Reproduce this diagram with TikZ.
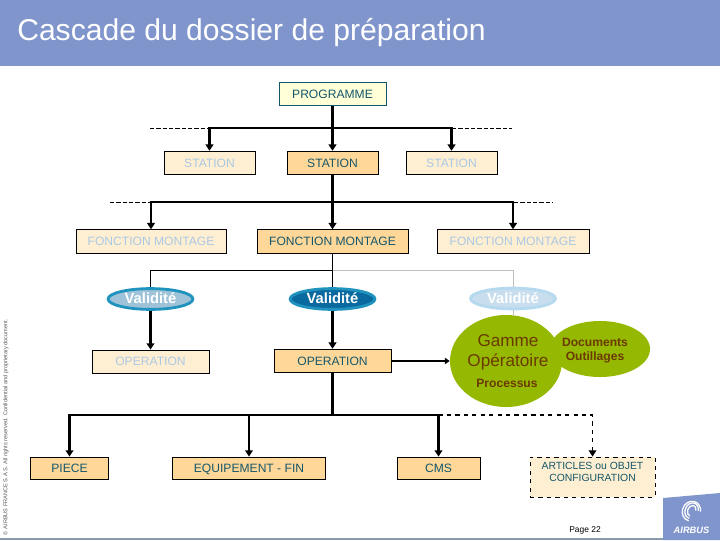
\documentclass[tikz,border=0pt]{standalone}
\usepackage{fontspec}
\setmainfont{Liberation Sans}
\usetikzlibrary{arrows.meta,positioning,shapes.geometric}

\definecolor{headblue}{HTML}{7F95CC}
\definecolor{footgrey}{HTML}{8A9BB0}
\definecolor{boxdark}{HTML}{FFD899}
\definecolor{boxlight}{HTML}{FFEFD2}
\definecolor{progfill}{HTML}{FFFFD8}
\definecolor{tealtext}{HTML}{15566A}
\definecolor{paletext}{HTML}{A9C8E4}
\definecolor{gammegreen}{HTML}{95B800}
\definecolor{gammetext}{HTML}{6B3A00}
\definecolor{ringblue}{HTML}{1F93BD}
\definecolor{ringpale}{HTML}{B5D9EE}
\definecolor{validpale}{HTML}{C8DEEE}
\definecolor{validsoft}{HTML}{9EC3D8}
\definecolor{validdeep}{HTML}{0A6A9F}

\begin{document}
\begin{tikzpicture}[
  x=0.025cm, y=-0.025cm,
  font=\fontsize{8.6pt}{10pt}\selectfont,
  box/.style={draw=black, line width=0.6pt, align=center, inner sep=0pt, minimum height=0.59cm, text height=6.2pt, text depth=0pt, fill=boxdark, text=tealtext},
  palebox/.style={box, fill=boxlight, text=paletext},
  valid/.style={ellipse, draw=#1, line width=2pt, inner sep=0pt, minimum width=2.12cm, minimum height=0.52cm, text height=7pt, text depth=0pt, text=white, font=\fontsize{10.5pt}{11pt}\selectfont\bfseries},
  blob/.style={ellipse, fill=gammegreen, inner sep=0pt},
  gtext/.style={text=gammetext, align=center, inner sep=0pt},
  link/.style={-{Triangle[length=4.5pt,width=5.5pt]}, line width=1.5pt},
  trunk/.style={line width=1.5pt},
  thinlink/.style={line width=0.7pt},
  fade/.style={line width=0.7pt, draw=black!25},
  stub/.style={line width=0.7pt, dash pattern=on 3pt off 1.5pt}
]
\useasboundingbox (0,0) rectangle (720,540);

\fill[headblue] (0,0) rectangle (720,66);
\fill[footgrey] (0,538) rectangle (720,540);
\node[anchor=west, inner sep=0pt, text=white, font=\fontsize{21.4pt}{24pt}\selectfont] (title) at (17,32.5)
  {Cascade du dossier de préparation};
\node[rotate=90, inner sep=0pt, text=black!65, font=\fontsize{4pt}{5pt}\selectfont] (legal) at (6,427)
  {© AIRBUS FRANCE S.A.S. All rights reserved. Confidential and proprietary document.};

\node[box, draw=tealtext, fill=progfill, minimum width=2.675cm] (prog) at (332.5,94) {PROGRAMME};

\node[palebox, minimum width=2.275cm] (stLeft) at (209.5,163) {STATION};
\node[box, minimum width=2.275cm] (stMid) at (332.5,163) {STATION};
\node[palebox, minimum width=2.275cm] (stRight) at (451.5,163) {STATION};

\node[palebox, minimum width=3.75cm] (fnLeft) at (151,241.5) {FONCTION MONTAGE};
\node[box, minimum width=3.775cm] (fnMid) at (332.5,241.5) {FONCTION MONTAGE};
\node[palebox, minimum width=3.8cm] (fnRight) at (513,241.5) {FONCTION MONTAGE};

\coordinate (busA) at (332.5,128);
\coordinate (busB) at (332.5,202);
\coordinate (busC) at (332.5,270);
\coordinate (busD) at (332.5,415);
\coordinate (stubAl) at (150,128.5);
\coordinate (stubAr) at (512,128.5);
\coordinate (stubBl) at (110,202.5);
\coordinate (stubBr) at (553,202.5);

\node[valid=ringblue, fill=validsoft] (vaLeft) at (150.5,299) {Validité};
\node[valid=ringblue, fill=validdeep] (vaMid) at (332.5,299) {Validité};
\node[valid=ringpale, fill=validpale] (vaRight) at (513,298.5) {Validité};

\node[blob, minimum width=2.5cm, minimum height=1.4cm] (docs) at (600,349) {};
\node[blob, minimum width=2.8cm, minimum height=2.3cm] (gamme) at (506,361) {};

\draw[thinlink] (fnMid.south) -- (vaMid.north);
\draw[thinlink] (busC) -| (vaLeft.north);
\draw[fade] (busC) -| (vaRight.north);
\draw[fade] (vaRight.south) -- (vaRight.south |- gamme.north);

\node[palebox, minimum width=2.925cm, minimum height=0.575cm] (opLeft) at (150.5,361.5) {OPERATION};
\node[box, minimum width=2.925cm] (opMid) at (332.5,361) {OPERATION};

\node[box, minimum width=1.95cm, minimum height=0.55cm] (piece) at (69.5,468) {PIECE};
\node[box, minimum width=3.825cm, minimum height=0.55cm] (equip) at (249,468) {EQUIPEMENT - FIN};
\node[box, minimum width=2.075cm, minimum height=0.55cm] (cms) at (438.5,468) {CMS};
\node[palebox, dashed, minimum width=3.125cm, minimum height=1cm] (artic) at (592.5,477) {};
\node[inner sep=0pt, align=center, text=tealtext, font=\fontsize{7.4pt}{8.6pt}\selectfont] (articLabel) at (592.5,472)
  {ARTICLES ou OBJET\\CONFIGURATION};

\draw[trunk] (prog.south) -- (busA);
\draw[link] (busA) -- (stMid.north);
\draw[link] (busA) -| (stLeft.north);
\draw[link] (busA) -| (stRight.north);
\draw[stub] (stubAl) -- (210,128.5);
\draw[stub] (452,128.5) -- (stubAr);

\draw[trunk] (stMid.south) -- (busB);
\draw[link] (busB) -- (fnMid.north);
\draw[link] (busB) -| (fnLeft.north);
\draw[link] (busB) -| (fnRight.north);
\draw[stub] (stubBl) -- (150,202.5);
\draw[stub] (514,202.5) -- (stubBr);

\draw[link] (vaLeft.south) -- (opLeft.north);
\draw[link] (vaMid.south) -- (opMid.north);
\draw[-{Triangle[length=3.5pt,width=4.5pt]}, line width=1.1pt] (opMid.east) -- (gamme.west);

\draw[trunk] (opMid.south) -- (busD);
\draw[link] (busD) -| (piece.north);
\draw[link] (busD) -| (equip.north);
\draw[link] (busD) -| (cms.north);
\draw[-{Triangle[length=4.5pt,width=5.5pt]}, line width=0.9pt, dashed] (cms.north |- busD) -| (artic.north);

\node[gtext, font=\fontsize{12.2pt}{14.2pt}\selectfont] (gammeLabel) at (508,352) {Gamme\\Opératoire};
\node[gtext, font=\fontsize{8.6pt}{10pt}\selectfont\bfseries] (procLabel) at (507,383.5) {Processus};
\node[gtext, font=\fontsize{8.6pt}{10pt}\selectfont\bfseries] (docsLabel) at (595,350.5) {Documents\\Outillages};

\node[inner sep=0pt, font=\fontsize{6pt}{7pt}\selectfont] (page) at (585,530) {Page 22};

\fill[headblue] (663,498) -- (720,493) -- (720,540) -- (663,540) -- cycle;
\node[inner sep=0pt, text=white, font=\fontsize{6.6pt}{7pt}\selectfont\bfseries\itshape] (airbus) at (691.5,530) {AIRBUS};
\foreach \rx/\ry in {9/10,6.5/8,4/5.5} {
  \draw[white, line width=0.9pt, rotate around={-25:(691,512)}] (691,512) ++(80:\rx) arc[start angle=80, end angle=340, x radius=\rx, y radius=\ry];
}
\end{tikzpicture}
\end{document}
